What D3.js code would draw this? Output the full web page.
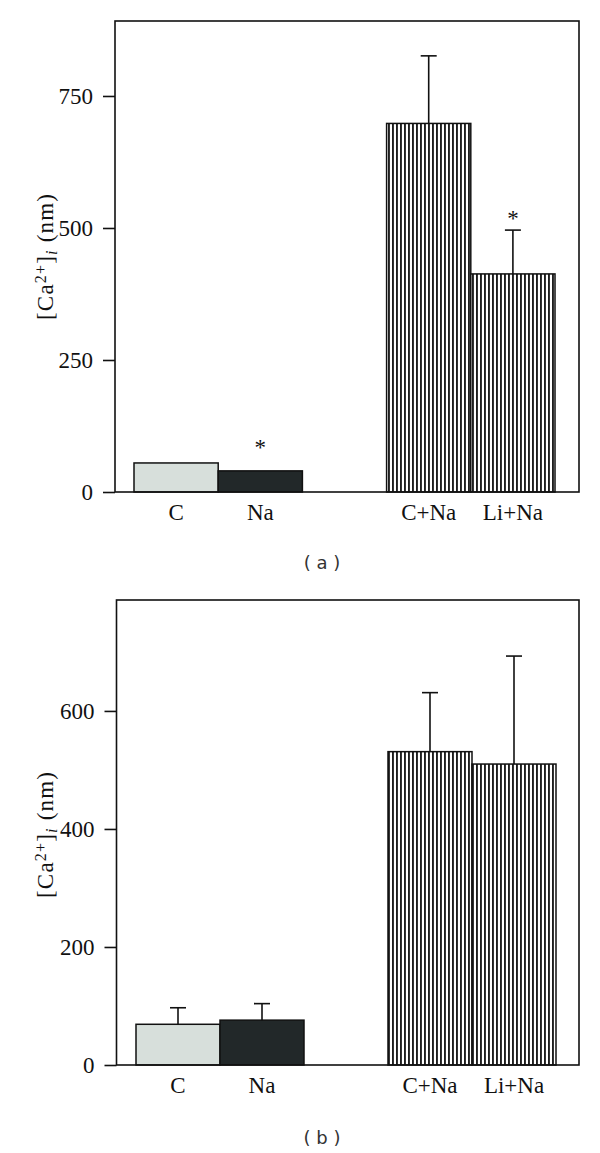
<html>
<head>
  <title>Ca2+ bar charts</title>
  <script src='https://d3js.org/d3.v7.min.js'></script>
  <style>
    body { margin: 0; background: #fff; }
  </style>
</head>
<body>
  <script>

// data
var categories = ["C", "Na", "C+Na", "Li+Na"];

var meansA = [55, 40, 698, 413];
var errA   = [0, 0, 128, 83];
var starsA = [false, true, false, true];
var ticksA = [0, 250, 500, 750];
var maxA   = 892;

var meansB = [69, 76, 531, 510];
var errB   = [28, 28, 100, 183];
var starsB = [false, false, false, false];
var ticksB = [0, 200, 400, 600];
var maxB   = 788;

var width = 600,
    height = 1153;

var svg = d3.select('body')
  .append('svg')
  .attr('width', width)
  .attr('height', height)
  .style('background', '#fff');

var defs = svg.append('defs');
var pat = defs.append('pattern')
  .attr('id', 'stripes')
  .attr('patternUnits', 'userSpaceOnUse')
  .attr('width', 4)
  .attr('height', 10);
pat.append('rect').attr('width', 4).attr('height', 10).attr('fill', '#fff');
pat.append('rect').attr('x', 0).attr('width', 1.9).attr('height', 10).attr('fill', '#1e1e1e');

var fills = ['#d7dfdb', '#222829', 'url(#stripes)', 'url(#stripes)'];
var serif = '"Liberation Serif", "Times New Roman", serif';

function panel(opt) {
  var g = svg.append('g');

  var x = d3.scaleBand()
    .domain(["C", "Na", "_gap", "C+Na", "Li+Na"])
    .range([opt.barLeft, opt.barRight])
    .padding(0);

  var y = d3.scaleLinear()
    .domain([0, opt.max])
    .range([opt.bottom, opt.top]);

  var rows = categories.map(function(c, i) {
    return { name: c, mean: opt.means[i], err: opt.errs[i], star: opt.stars[i], fill: fills[i] };
  });

  // bars
  g.selectAll('rect.bar')
    .data(rows)
    .enter()
    .append('rect')
    .attr('class', 'bar')
    .attr('x', function(d) { return x(d.name); })
    .attr('width', x.bandwidth())
    .attr('y', function(d) { return y(d.mean); })
    .attr('height', function(d) { return y(0) - y(d.mean); })
    .attr('fill', function(d) { return d.fill; })
    .attr('stroke', '#111')
    .attr('stroke-width', 1.5);

  // error bars (upper only)
  var eb = g.selectAll('g.err')
    .data(rows.filter(function(d) { return d.err > 0; }))
    .enter()
    .append('g')
    .attr('stroke', '#111')
    .attr('stroke-width', 1.6);
  eb.append('line')
    .attr('x1', function(d) { return x(d.name) + x.bandwidth() / 2; })
    .attr('x2', function(d) { return x(d.name) + x.bandwidth() / 2; })
    .attr('y1', function(d) { return y(d.mean); })
    .attr('y2', function(d) { return y(d.mean + d.err); });
  eb.append('line')
    .attr('x1', function(d) { return x(d.name) + x.bandwidth() / 2 - 8; })
    .attr('x2', function(d) { return x(d.name) + x.bandwidth() / 2 + 8; })
    .attr('y1', function(d) { return y(d.mean + d.err); })
    .attr('y2', function(d) { return y(d.mean + d.err); });

  // asterisks
  g.selectAll('text.star')
    .data(rows.filter(function(d) { return d.star; }))
    .enter()
    .append('text')
    .attr('x', function(d) { return x(d.name) + x.bandwidth() / 2; })
    .attr('y', function(d) { return y(d.mean + d.err) - (d.err > 0 ? 4 : 16); })
    .attr('text-anchor', 'middle')
    .style('font-family', serif)
    .style('font-size', '23px')
    .attr('fill', '#111')
    .text('*');

  // y axis
  var axis = g.append('g')
    .attr('transform', 'translate(' + opt.left + ',0)')
    .call(d3.axisLeft(y).tickValues(opt.ticks).tickSize(12).tickPadding(10));
  axis.select('.domain').remove();
  axis.selectAll('line').attr('stroke', '#111').attr('stroke-width', 1.6);
  axis.selectAll('text')
    .style('font-family', serif)
    .style('font-size', '23px')
    .attr('fill', '#111');

  // frame
  g.append('rect')
    .attr('x', opt.left)
    .attr('y', opt.top)
    .attr('width', opt.right - opt.left)
    .attr('height', opt.bottom - opt.top)
    .attr('fill', 'none')
    .attr('stroke', '#111')
    .attr('stroke-width', 1.6);

  // category labels
  g.selectAll('text.cat')
    .data(categories)
    .enter()
    .append('text')
    .attr('x', function(d) { return x(d) + x.bandwidth() / 2; })
    .attr('y', opt.bottom + 28)
    .attr('text-anchor', 'middle')
    .style('font-family', serif)
    .style('font-size', '23px')
    .attr('fill', '#111')
    .text(function(d) { return d; });

  // y label
  var yl = g.append('text')
    .attr('transform', 'translate(53,' + opt.labelY + ') rotate(-90)')
    .attr('text-anchor', 'middle')
    .style('font-family', serif)
    .style('font-size', '23px')
    .attr('fill', '#111')
    .attr('textLength', 126)
    .attr('lengthAdjust', 'spacing');
  yl.append('tspan').text('[Ca');
  yl.append('tspan').attr('baseline-shift', '45%').style('font-size', '16px').text('2+');
  yl.append('tspan').text(']');
  yl.append('tspan').attr('baseline-shift', '-25%').style('font-size', '16px').style('font-style', 'italic').text('i');
  yl.append('tspan').text(' (nm)');

  // panel tag
  g.append('text')
    .attr('x', 322)
    .attr('y', opt.tagY)
    .attr('text-anchor', 'middle')
    .style('font-family', '"DejaVu Sans", sans-serif')
    .style('font-size', '18px')
    .attr('fill', '#333')
    .attr('xml:space', 'preserve')
    .text(opt.tag);
}

panel({ means: meansA, errs: errA, stars: starsA, ticks: ticksA, max: maxA,
        left: 115, right: 579, top: 21, bottom: 492,
        barLeft: 134, barRight: 555, labelY: 257, tagY: 569, tag: '( a )' });

panel({ means: meansB, errs: errB, stars: starsB, ticks: ticksB, max: maxB,
        left: 116.5, right: 579, top: 600, bottom: 1065,
        barLeft: 136, barRight: 556, labelY: 835, tagY: 1144, tag: '( b )' });

  </script>
</body>
</html>
